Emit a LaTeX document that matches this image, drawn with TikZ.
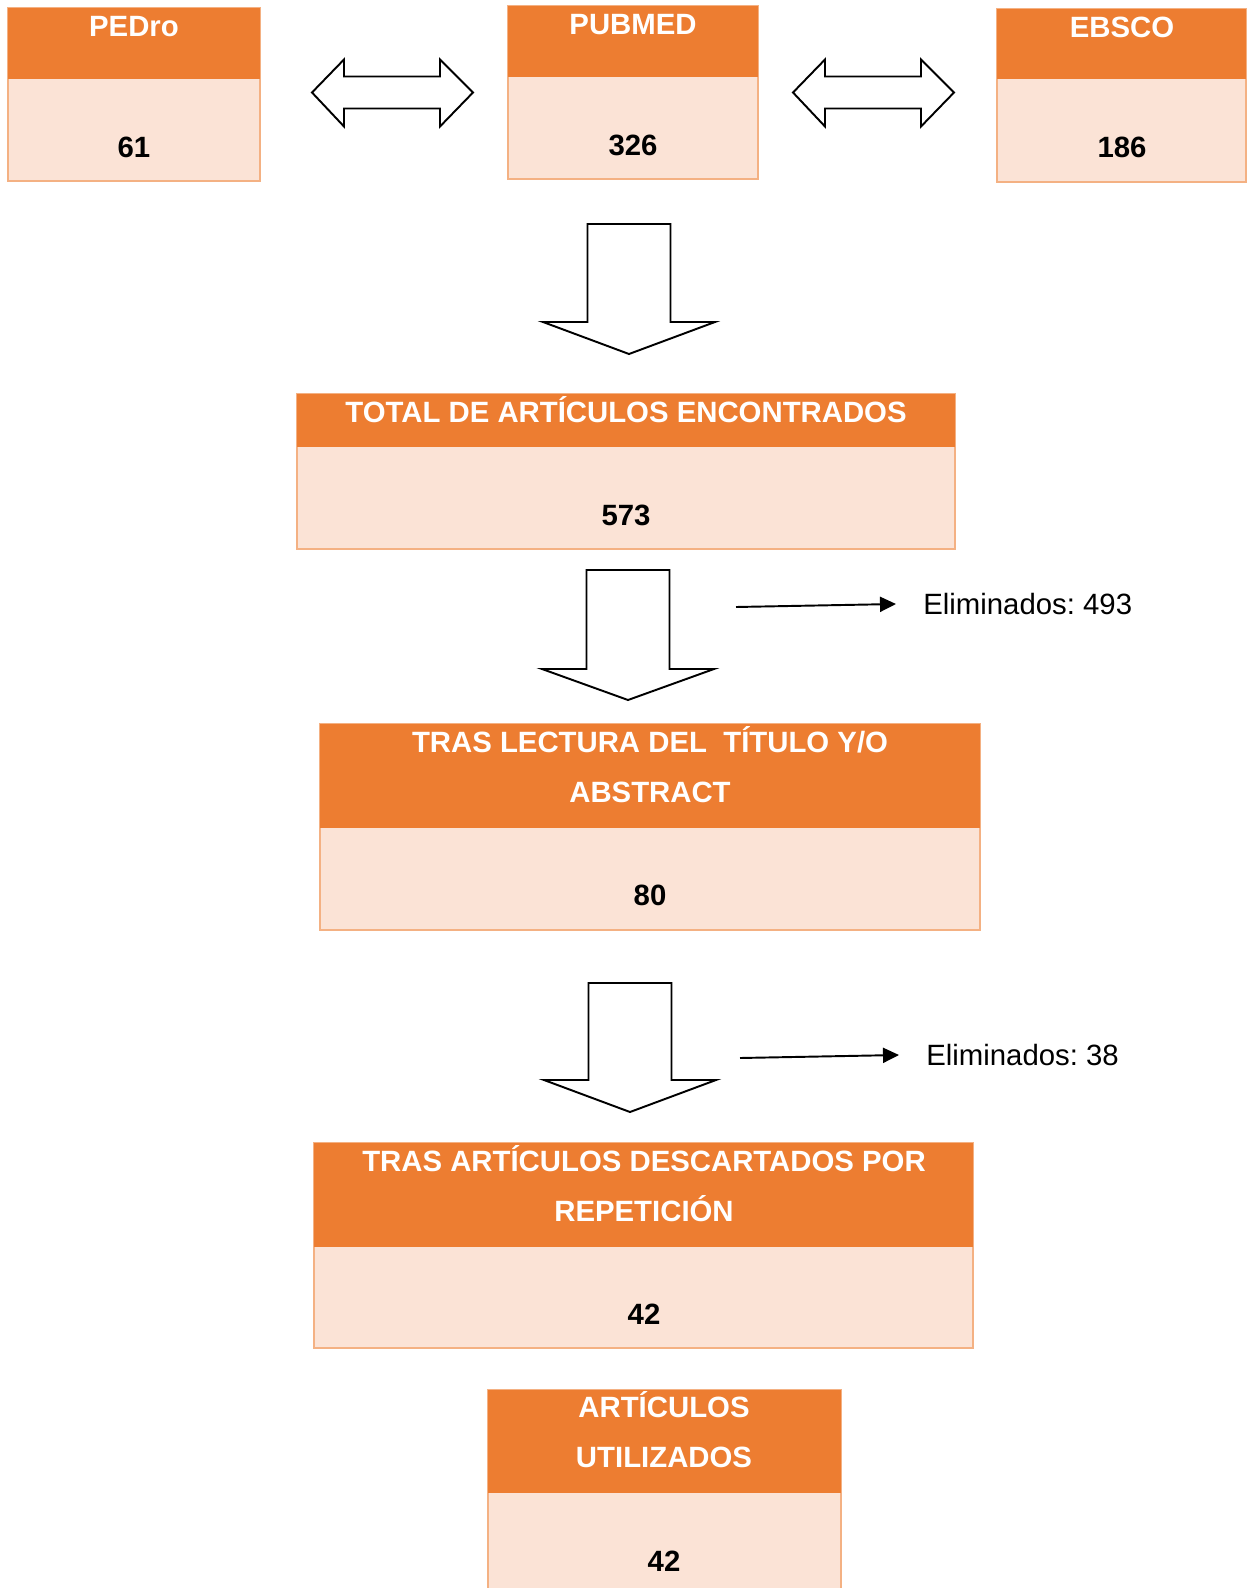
\documentclass[tikz,border=0pt]{standalone}
\usepackage{fontspec}
\setmainfont{Liberation Sans}
\usetikzlibrary{arrows.meta}
\definecolor{hdrorange}{HTML}{ED7D31}
\definecolor{bodyfill}{HTML}{FBE3D6}
\definecolor{bodyline}{HTML}{F4B183}
\frenchspacing
% block arrows, coordinates in pixels
\newcommand{\twoway}[2]{% left tip x, mid y
  \draw[blockarrow] (#1,#2) -- ++(32,-33) -- ++(0,17) -- ++(96,0) -- ++(0,-17)
    -- ++(33,33) -- ++(-33,34) -- ++(0,-18) -- ++(-96,0) -- ++(0,18) -- cycle;}
\newcommand{\bigdown}[4]{% centre x, top y, head y, tip y
  \draw[blockarrow] (#1-41.5,#2) -- (#1+41.5,#2) -- (#1+41.5,#3) -- (#1+86,#3)
    -- (#1,#4) -- (#1-86,#3) -- (#1-41.5,#3) -- cycle;}
\begin{document}
\begin{tikzpicture}[x=0.02cm, y=-0.02cm,
    body/.style={draw=bodyline, fill=bodyfill, line width=0.9pt},
    hdr/.style={fill=hdrorange},
    title/.style={text=white, font=\fontsize{16.7}{28.5}\selectfont\bfseries, align=center, inner sep=0pt},
    count/.style={font=\fontsize{16.7}{20}\selectfont\bfseries, inner sep=0pt},
    note/.style={font=\fontsize{16.7}{20}\selectfont, inner sep=0pt, anchor=west},
    blockarrow/.style={draw=black, fill=white, line width=1.1pt, line join=miter},
    thin/.style={line width=1.1pt, -{Triangle[length=0.32cm,width=0.3cm]}}]
\useasboundingbox (0,0) rectangle (1247,1588);

% databases
\draw[body] (8,8) rectangle (260,181);
\fill[hdr] (8,8) rectangle (260,79);
\node[title] (pedro) at (134,27) {PEDro};
\node[count] (pedroN) at (134,147) {61};

\draw[body] (508,6) rectangle (758,179);
\fill[hdr] (508,6) rectangle (758,77);
\node[title] (pubmed) at (633,25) {PUBMED};
\node[count] (pubmedN) at (633,145) {326};

\draw[body] (997,9) rectangle (1246,182);
\fill[hdr] (997,9) rectangle (1246,79);
\node[title] (ebsco) at (1122,27) {EBSCO};
\node[count] (ebscoN) at (1122,147) {186};

\twoway{312}{92.5}
\twoway{793}{92.5}

\bigdown{629}{224}{322}{354}

% total
\draw[body] (297,394) rectangle (955,549);
\fill[hdr] (297,394) rectangle (955,447);
\node[title] (total) at (626,410) {TOTAL DE ARTÍCULOS ENCONTRADOS};
\node[count] (totalN) at (626,515) {573};

\bigdown{628}{570}{669}{700}
\node[note] (elim1) at (923,604) {Eliminados: 493};
\coordinate (e1) at (736,607);
\draw[thin] (e1) -- ([xshift=-0.54cm]elim1.west);

% titulo / abstract
\draw[body] (320,724) rectangle (980,930);
\fill[hdr] (320,724) rectangle (980,828);
\node[title] (lectura) at (650,765) {TRAS LECTURA DEL\ \ TÍTULO Y/O\\ABSTRACT};
\node[count] (lecturaN) at (650,895) {80};

\bigdown{630}{983}{1080}{1112}
\node[note] (elim2) at (926,1055) {Eliminados: 38};
\coordinate (e2) at (740,1058);
\draw[thin] (e2) -- ([xshift=-0.54cm]elim2.west);

% repeticion
\draw[body] (314,1143) rectangle (973,1348);
\fill[hdr] (314,1143) rectangle (973,1247);
\node[title] (repe) at (644,1184) {TRAS ARTÍCULOS DESCARTADOS POR\\REPETICIÓN};
\node[count] (repeN) at (644,1314) {42};

% utilizados
\draw[body] (488,1390) rectangle (841,1600);
\fill[hdr] (488,1390) rectangle (841,1493);
\node[title] (util) at (664,1430) {ARTÍCULOS\\UTILIZADOS};
\node[count] (utilN) at (664,1561) {42};
\end{tikzpicture}
\end{document}
